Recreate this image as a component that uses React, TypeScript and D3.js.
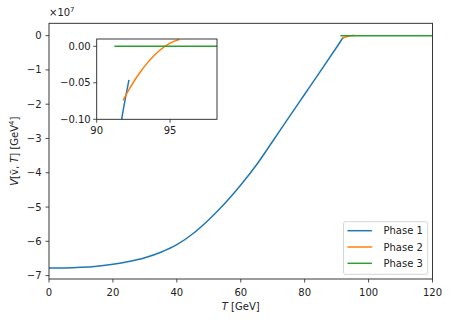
import React from "react";
import * as d3 from "d3";

// temperature in GeV, potential in units of 1e7 GeV^4
const PHASE1_T = [0, 5, 10, 15, 20, 25, 30, 35, 40, 45, 50, 55, 60, 65, 70, 75, 80, 85, 90, 91, 91.7, 92.2];
const PHASE1_V = [-6.78, -6.777, -6.76, -6.725, -6.67, -6.59, -6.48, -6.32, -6.1, -5.78, -5.37, -4.9, -4.36, -3.76, -3.08, -2.39, -1.71, -1.03, -0.34, -0.2, -0.1, -0.046];

const PHASE2_T = [91.8, 92.2, 92.6, 93.0, 93.4, 93.8, 94.2, 94.6, 95.0, 95.63];
const PHASE2_V = [-0.074, -0.0594, -0.0462, -0.0345, -0.0241, -0.015, -0.0072, -0.0008, 0.0043, 0.0092];

const PHASE3_T = [91.2, 120];
const PHASE3_V = [0, 0];

const SERIES = ["Phase 1", "Phase 2", "Phase 3"];
const COLORS = ["#1f77b4", "#ff7f0e", "#2ca02c"];

const X_TICKS = [0, 20, 40, 60, 80, 100, 120];
const Y_TICKS = [0, -1, -2, -3, -4, -5, -6, -7];
const INSET_X_TICKS = [90, 95];
const INSET_Y_TICKS = [0, -0.05, -0.1];

const FONT = "DejaVu Sans";
const minus = (s: string) => s.replace("-", "\u2212");

function zip(t: number[], v: number[]): [number, number][] {
  return t.map((d, i) => [d, v[i]]);
}

const DATA = [zip(PHASE1_T, PHASE1_V), zip(PHASE2_T, PHASE2_V), zip(PHASE3_T, PHASE3_V)];

const App = () => {
  const x = d3.scaleLinear().domain([0, 120]).range([49, 432.5]);
  const y = d3.scaleLinear().domain([-7.1, 0.36]).range([279, 23.3]);

  const ix = d3.scaleLinear().domain([90, 98.2]).range([96.7, 217]);
  const iy = d3.scaleLinear().domain([-0.1, 0.01]).range([119.3, 39]);

  const line = d3
    .line<[number, number]>()
    .x((d) => x(d[0]))
    .y((d) => y(d[1]))
    .curve(d3.curveMonotoneX);
  const iline = d3
    .line<[number, number]>()
    .x((d) => ix(d[0]))
    .y((d) => iy(d[1]))
    .curve(d3.curveMonotoneX);

  const [x0, x1] = x.range();
  const [y1, y0] = y.range();
  const [ix0, ix1] = ix.range();
  const [iy1, iy0] = iy.range();

  const legX = 343.5;
  const legY = 221.7;

  return (
    <svg
      width={452}
      height={322}
      style={{ position: "absolute", left: 0, top: 0, background: "#fff" }}
      fontFamily={FONT}
      fontSize={10}
    >
      <defs>
        <clipPath id="main-clip">
          <rect x={x0} y={y0} width={x1 - x0} height={y1 - y0} />
        </clipPath>
        <clipPath id="inset-clip">
          <rect x={ix0} y={iy0} width={ix1 - ix0} height={iy1 - iy0} />
        </clipPath>
      </defs>

      <g clipPath="url(#main-clip)">
        {DATA.map((d, i) => (
          <path key={i} d={line(d) || ""} fill="none" stroke={COLORS[i]} strokeWidth={1.5} />
        ))}
      </g>

      {/* main axes */}
      <rect x={x0} y={y0} width={x1 - x0} height={y1 - y0} fill="none" stroke="#222" strokeWidth={0.9} />
      {X_TICKS.map((t) => (
        <g key={t} transform={`translate(${x(t)},${y1})`}>
          <line y2={3.5} stroke="#222" strokeWidth={0.8} />
          <text y={17} textAnchor="middle" fill="#222">{t}</text>
        </g>
      ))}
      {Y_TICKS.map((t) => (
        <g key={t} transform={`translate(${x0},${y(t)})`}>
          <line x2={-3.5} stroke="#222" strokeWidth={0.8} />
          <text x={-7.5} dy="0.35em" textAnchor="end" fill="#222">{minus(String(t))}</text>
        </g>
      ))}
      <text x={49} y={16} fill="#222">
        ×10<tspan dy={-4.5} fontSize={7}>7</tspan>
      </text>
      <text x={(x0 + x1) / 2} y={310} textAnchor="middle" fill="#222">
        <tspan fontStyle="italic">T</tspan> [GeV]
      </text>
      <text transform={`translate(18,${(y0 + y1) / 2}) rotate(-90)`} textAnchor="middle" fill="#222">
        <tspan fontStyle="italic">V</tspan>[v{"\u0304"}, <tspan fontStyle="italic">T</tspan>] [GeV
        <tspan dy={-4} fontSize={7}>4</tspan>
        <tspan dy={4}>]</tspan>
      </text>

      {/* legend */}
      <rect x={legX} y={legY} width={84.2} height={52.6} rx={2} fill="#fff" fillOpacity={0.8} stroke="#ccc" strokeWidth={0.8} />
      {SERIES.map((s, i) => (
        <g key={s} transform={`translate(${legX + 4},${legY + 9 + i * 16.3})`}>
          <line x1={0} x2={24.4} stroke={COLORS[i]} strokeWidth={1.5} />
          <text x={36} dy="0.35em" fill="#222">{s}</text>
        </g>
      ))}

      {/* inset */}
      <rect x={ix0} y={iy0} width={ix1 - ix0} height={iy1 - iy0} fill="#fff" />
      <g clipPath="url(#inset-clip)">
        {DATA.map((d, i) => (
          <path key={i} d={iline(d) || ""} fill="none" stroke={COLORS[i]} strokeWidth={1.5} />
        ))}
      </g>
      <rect x={ix0} y={iy0} width={ix1 - ix0} height={iy1 - iy0} fill="none" stroke="#222" strokeWidth={0.9} />
      {INSET_X_TICKS.map((t) => (
        <g key={t} transform={`translate(${ix(t)},${iy1})`}>
          <line y2={3.5} stroke="#222" strokeWidth={0.8} />
          <text y={14.5} textAnchor="middle" fill="#222">{t}</text>
        </g>
      ))}
      {INSET_Y_TICKS.map((t) => (
        <g key={t} transform={`translate(${ix0},${iy(t)})`}>
          <line x2={-3.5} stroke="#222" strokeWidth={0.8} />
          <text x={-6} dy="0.35em" textAnchor="end" fill="#222">{minus(t.toFixed(2))}</text>
        </g>
      ))}
    </svg>
  );
};

export default App;
